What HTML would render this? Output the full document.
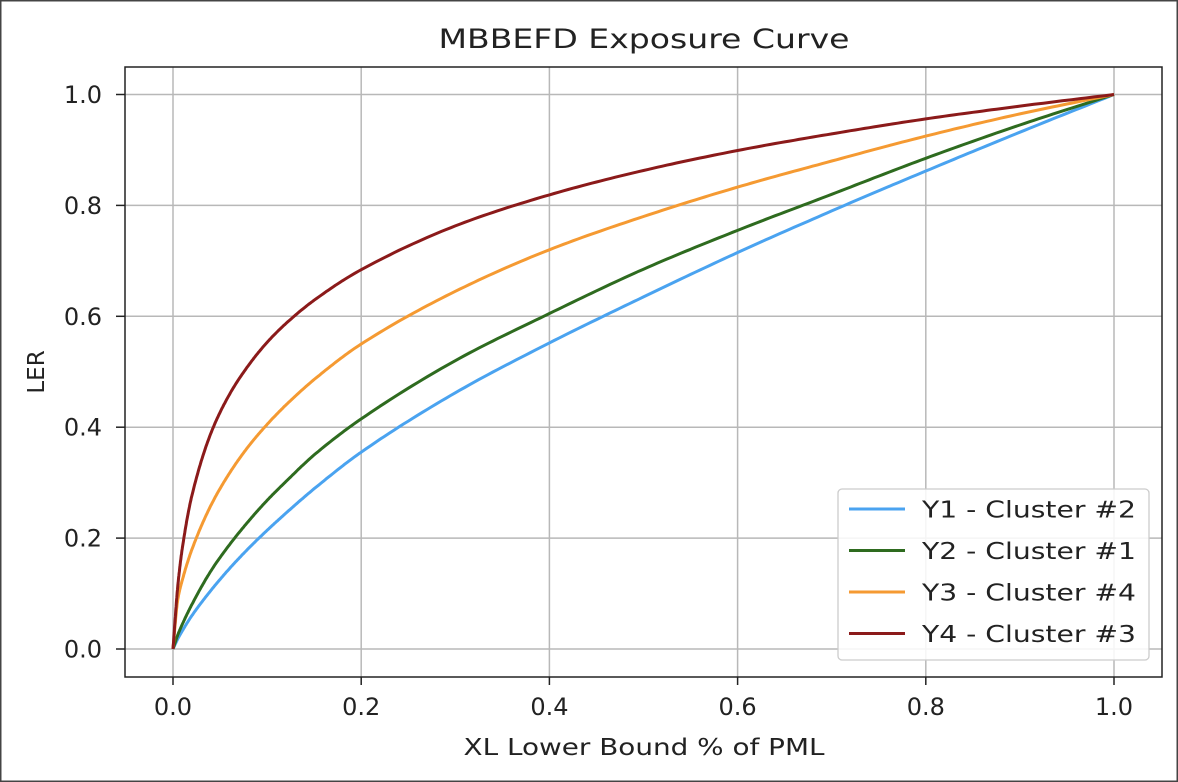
<!DOCTYPE html>
<html><head><meta charset="utf-8"><style>
body{margin:0;background:#fff;}
svg{display:block;font-family:"DejaVu Sans","Liberation Sans",sans-serif;}
</style></head><body>
<svg id="chart" width="1178" height="782" viewBox="0 0 1178 782">
<rect x="0" y="0" width="1178" height="782" fill="#fff" stroke="#444" stroke-width="3"/>
<g id="grid"></g>
<g id="series"></g>
<rect x="125" y="67" width="1037" height="610" fill="none" stroke="#222" stroke-width="1.5"/>
<g id="ticks"></g>
<text x="644" y="48" text-anchor="middle" font-size="27" textLength="411" lengthAdjust="spacingAndGlyphs" fill="#222">MBBEFD Exposure Curve</text>
<text x="644" y="755" text-anchor="middle" font-size="23" textLength="361" lengthAdjust="spacingAndGlyphs" fill="#222">XL Lower Bound % of PML</text>
<text x="0" y="0" transform="translate(44,372) rotate(-90)" text-anchor="middle" font-size="23" fill="#222">LER</text>
<g id="legend"></g>
</svg>
<script>
const xs=[0,0.005,0.01,0.02,0.04,0.06,0.08,0.1,0.12,0.15,0.2,0.3,0.4,0.5,0.6,0.7,0.8,0.9,1.0];
const y1=[0,0.018,0.033,0.06,0.105,0.145,0.181,0.214,0.245,0.289,0.355,0.462,0.552,0.635,0.715,0.79,0.862,0.932,1];
const y2=[0,0.025,0.045,0.08,0.14,0.188,0.23,0.268,0.302,0.35,0.415,0.52,0.605,0.685,0.755,0.82,0.885,0.945,1];
const y3=[0,0.088,0.125,0.179,0.258,0.317,0.365,0.405,0.44,0.486,0.55,0.645,0.72,0.78,0.833,0.88,0.925,0.965,1];
const y4=[0,0.112,0.183,0.276,0.388,0.459,0.511,0.553,0.587,0.629,0.684,0.763,0.819,0.863,0.899,0.929,0.956,0.979,1];
const seriesNames=["Y1 - Cluster #2","Y2 - Cluster #1","Y3 - Cluster #4","Y4 - Cluster #3"];
const seriesColors=["#4aa3f0","#2e6b1f","#f59a32","#8b1a1a"];
const xTicks=[0,0.2,0.4,0.6,0.8,1.0];
const yTicks=[0,0.2,0.4,0.6,0.8,1.0];
const NS="http://www.w3.org/2000/svg";
const X=v=>173+v*941;
const Y=v=>649-v*554.5;
function mk(t,a,p){const e=document.createElementNS(NS,t);for(const k in a)e.setAttribute(k,a[k]);p.appendChild(e);return e;}
const grid=document.getElementById('grid'),ticks=document.getElementById('ticks');
xTicks.forEach(t=>{
  const l=mk('line',{x1:X(t),x2:X(t),y1:67,y2:677,stroke:'#b8b8b8','stroke-width':1.5},grid);
  
  
  const k=mk('line',{x1:X(t),x2:X(t),y1:677,y2:685,stroke:'#222','stroke-width':1.5},ticks);
  
  
  const tx=mk('text',{x:X(t),y:715,'text-anchor':'middle','font-size':24,fill:'#222'},ticks);
  tx.textContent=t.toFixed(1);
  
  
});
yTicks.forEach(t=>{
  const l=mk('line',{x1:125,x2:1162,y1:Y(t),y2:Y(t),stroke:'#b8b8b8','stroke-width':1.5},grid);
  
  
  const k=mk('line',{x1:116,x2:125,y1:Y(t),y2:Y(t),stroke:'#222','stroke-width':1.5},ticks);
  
  
  const tx=mk('text',{x:102,y:Y(t)+8.5,'text-anchor':'end','font-size':24,fill:'#222'},ticks);
  tx.textContent=t.toFixed(1);
  
  
});
function monotone(x,y){
  const n=x.length,d=[],m=new Array(n);
  for(let i=0;i<n-1;i++)d.push((y[i+1]-y[i])/(x[i+1]-x[i]));
  m[0]=d[0];m[n-1]=d[n-2];
  for(let i=1;i<n-1;i++){m[i]=d[i-1]*d[i]<=0?0:2/(1/d[i-1]+1/d[i]);}
  const pts=[];
  for(let i=0;i<n-1;i++){
    const h=x[i+1]-x[i];
    for(let s=0;s<20;s++){
      const t=s/20,t2=t*t,t3=t2*t;
      const v=(2*t3-3*t2+1)*y[i]+(t3-2*t2+t)*h*m[i]+(-2*t3+3*t2)*y[i+1]+(t3-t2)*h*m[i+1];
      pts.push([X(x[i]+t*h),Y(v)]);
    }
  }
  pts.push([X(x[n-1]),Y(y[n-1])]);
  return pts.map((p,i)=>(i?'L':'M')+p[0].toFixed(1)+','+p[1].toFixed(1)).join('');
}
const sg=document.getElementById('series');
[y1,y2,y3,y4].forEach((ys,i)=>{
  const p=mk('path',{d:monotone(xs,ys),fill:'none',stroke:seriesColors[i],'stroke-width':3,'stroke-linejoin':'round'},sg);
  
  
});
const lg=document.getElementById('legend');
const box=mk('rect',{x:838,y:489,width:311,height:171,rx:4,fill:'#fff','fill-opacity':0.85,stroke:'#ccc','stroke-width':1.3},lg);


seriesNames.forEach((nm,i)=>{
  const yy=509+i*41.5;
  const l=mk('line',{x1:849,x2:905,y1:yy,y2:yy,stroke:seriesColors[i],'stroke-width':3},lg);
  
  
  const t=mk('text',{x:922,y:yy+8.5,'font-size':23,textLength:214,lengthAdjust:'spacingAndGlyphs',fill:'#222'},lg);
  t.textContent=nm;
  
  
});
</script>
</body></html>
